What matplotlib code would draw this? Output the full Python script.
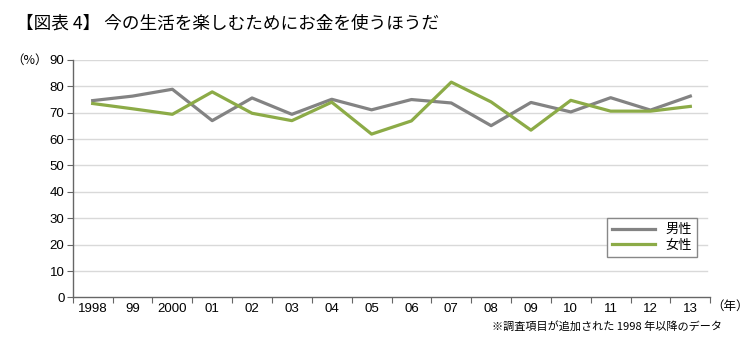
import matplotlib
matplotlib.use('Agg')
import matplotlib.pyplot as plt
from matplotlib import font_manager

plt.rcParams['font.family'] = ['Noto Sans CJK JP', 'DejaVu Sans']

years = ['1998', '99', '2000', '01', '02', '03', '04', '05', '06', '07',
         '08', '09', '10', '11', '12', '13']
male = [74.6, 76.3, 78.9, 67.0, 75.6, 69.4, 75.1, 71.1, 75.0, 73.7,
        65.1, 73.9, 70.3, 75.7, 71.0, 76.3]
female = [73.5, 71.5, 69.4, 77.9, 69.8, 67.0, 74.0, 61.9, 66.9, 81.6,
          74.1, 63.4, 74.7, 70.6, 70.6, 72.4]
yticks = [0, 10, 20, 30, 40, 50, 60, 70, 80, 90]

names = {f.name for f in font_manager.fontManager.ttflist}
narrow = 'Liberation Sans Narrow' if 'Liberation Sans Narrow' in names else 'Liberation Sans'

fig = plt.figure(figsize=(7.5, 3.57), dpi=100)
ax = fig.add_axes([0.097, 0.167, 0.85, 0.665])

x = list(range(len(years)))
ax.plot(x, male, color='#838383', lw=2.3, label='男性', zorder=3)
ax.plot(x, female, color='#8cab47', lw=2.3, label='女性', zorder=3)

ax.set_xlim(-0.5, len(years) - 0.5)
ax.set_ylim(0, 90)
ax.set_yticks(yticks)
ax.set_yticklabels([str(v) for v in yticks], family='Liberation Sans', fontsize=9.5)
for v in yticks[1:]:
    ax.plot([-0.5, len(years) - 0.58], [v, v], color='#d9d9d9', lw=1, zorder=1)

ax.set_xticks([i - 0.5 for i in range(len(years) + 1)])
ax.set_xticklabels([])
ax.set_xticks(x, minor=True)
ax.set_xticklabels(years, minor=True, family=narrow, fontsize=9.5)
ax.tick_params(axis='x', which='minor', length=0, pad=4)
ax.tick_params(axis='x', which='major', length=4, color='#666666')
ax.tick_params(axis='y', length=4, color='#666666', pad=2)

for s in ['top', 'right']:
    ax.spines[s].set_visible(False)
for s in ['left', 'bottom']:
    ax.spines[s].set_color('#666666')
    ax.spines[s].set_linewidth(1)

leg = ax.legend(loc='upper left', bbox_to_anchor=(0.828, 0.362), fontsize=9.5,
                handlelength=3.2, borderpad=0.4, labelspacing=0.2,
                fancybox=False, framealpha=1, edgecolor='#888888')
leg.get_frame().set_linewidth(1)

fig.text(0.022, 0.935, '【図表 4】 今の生活を楽しむためにお金を使うほうだ', fontsize=12.7,
         va='center', ha='left')
fig.text(0.064, 0.832, '（%）', fontsize=9, va='center', ha='right')
fig.text(0.948, 0.142, '（年）', fontsize=9, va='center', ha='left')
fig.text(0.963, 0.085, '※調査項目が追加された 1998 年以降のデータ', fontsize=8,
         va='center', ha='right')

fig.savefig('out.png', dpi=100)
